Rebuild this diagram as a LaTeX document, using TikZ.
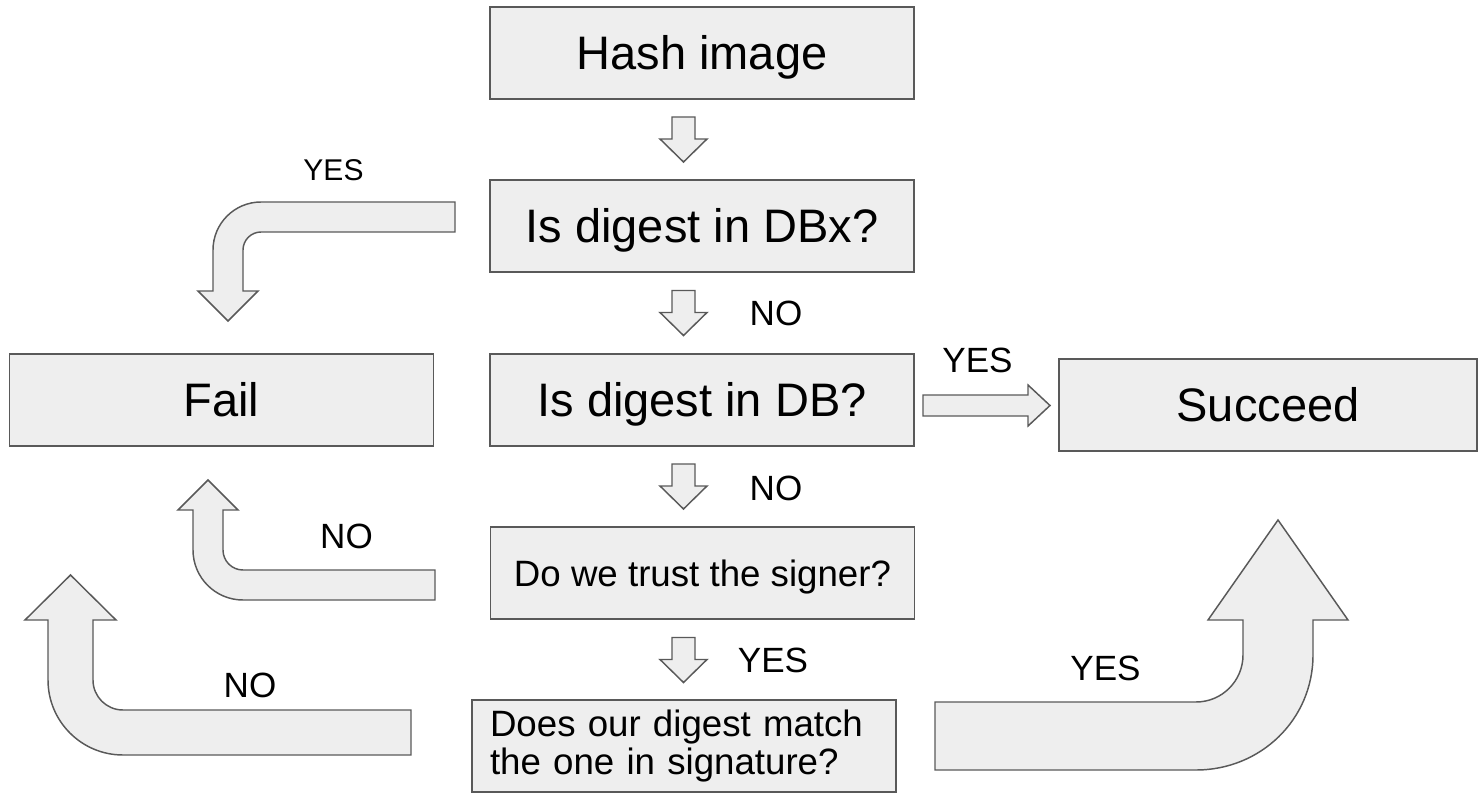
\documentclass[tikz,border=0pt]{standalone}
\usepackage{fontspec}
\setmainfont{Liberation Sans}
\begin{document}
\begin{tikzpicture}[x=0.75pt, y=-0.75pt,
  box/.style={draw=linegray, fill=boxgray, line width=1.3pt, rectangle,
    minimum width=318pt, minimum height=69pt, inner sep=0pt,
    text depth=0pt},
  bigtext/.style={font=\fontsize{35.25}{42}\selectfont, text height=25.2pt},
  midtext/.style={font=\fontsize{27.5}{28.5}\selectfont, text height=19.7pt},
  lbl/.style={font=\fontsize{26.3}{30}\selectfont, inner sep=0pt},
  smalllbl/.style={font=\fontsize{22.5}{26}\selectfont, inner sep=0pt},
  blockarrow/.style={draw=linegray, fill=boxgray, line width=1.1pt, line join=miter},
  downarr/.pic={\draw[blockarrow] (-11.5,0) -- (11.5,0) -- (11.5,22) -- (23.5,22)
    -- (0,45) -- (-23.5,22) -- (-11.5,22) -- cycle;}
]
\definecolor{boxgray}{HTML}{EEEEEE}
\definecolor{linegray}{HTML}{595959}
\useasboundingbox (0,0) rectangle (1479,795);

% process boxes
\node[box, bigtext] (hash) at (702,53) {Hash image};
\node[box, bigtext] (dbx) at (702,226) {Is digest in DBx?};
\node[box, bigtext] (db) at (702,400) {Is digest in DB?};
\node[box, bigtext] (fail) at (221.5,400) {Fail};
\node[box, bigtext, minimum width=313.5pt] (succeed) at (1268,405) {Succeed};
\node[box, midtext] (trust) at (702.5,573) {Do we trust the signer?};
\node[box, midtext, text width=291pt, align=left, inner xsep=13.5pt, text depth=]
  (match) at (684,746) {Does our digest match\\the one in signature?};

% straight block arrows down the middle column
\pic at (683.5,117) {downarr};
\pic at (683.5,290.5) {downarr};
\pic at (683.5,464) {downarr};
\pic at (683.5,637.5) {downarr};

% straight block arrow towards Succeed
\draw[blockarrow] (923,395) -- (1028,395) -- (1028,385) -- (1050,405.5)
  -- (1028,426) -- (1028,416) -- (923,416) -- cycle;

% bent block arrow: DBx yes -> Fail
\draw[blockarrow] (455,202) -- (261,202) .. controls (234.5,202) and (213,223.5) .. (213,250)
  -- (213,291) -- (198,291) -- (228,321) -- (258,291) -- (243,291) -- (243,250)
  .. controls (243,240.1) and (251.1,232) .. (261,232) -- (455,232) -- cycle;

% bent block arrow: signer not trusted -> Fail
\draw[blockarrow] (435,570) -- (243,570) .. controls (231.95,570) and (223,561.05) .. (223,550)
  -- (223,510) -- (238,510) -- (208,480) -- (178,510) -- (193,510) -- (193,550)
  .. controls (193,577.6) and (215.4,600) .. (243,600) -- (435,600) -- cycle;

% bent block arrow: digest mismatch -> Fail
\draw[blockarrow] (411,710) -- (123,710) .. controls (106.43,710) and (93,696.57) .. (93,680)
  -- (93,620) -- (116,620) -- (70.5,575) -- (25,620) -- (48,620) -- (48,680)
  .. controls (48,721.42) and (81.58,755) .. (123,755) -- (411,755) -- cycle;

% bent block arrow: digest match -> Succeed
\draw[blockarrow] (935,702) -- (1196,702) .. controls (1221.96,702) and (1243,680.96) .. (1243,655)
  -- (1243,620) -- (1208,620) -- (1278,520) -- (1348,620) -- (1313,620) -- (1313,655)
  .. controls (1313,719.62) and (1260.62,770) .. (1196,770) -- (935,770) -- cycle;

% decision labels
\node[smalllbl] (l1) at (333.5,170) {YES};
\node[lbl] (l2) at (776,313) {NO};
\node[lbl] (l3) at (776,488) {NO};
\node[lbl] (l4) at (773,660) {YES};
\node[lbl] (l5) at (977.5,360) {YES};
\node[lbl] (l6) at (346.5,536) {NO};
\node[lbl] (l7) at (250,685) {NO};
\node[lbl] (l8) at (1105.5,668.5) {YES};
\end{tikzpicture}
\end{document}
